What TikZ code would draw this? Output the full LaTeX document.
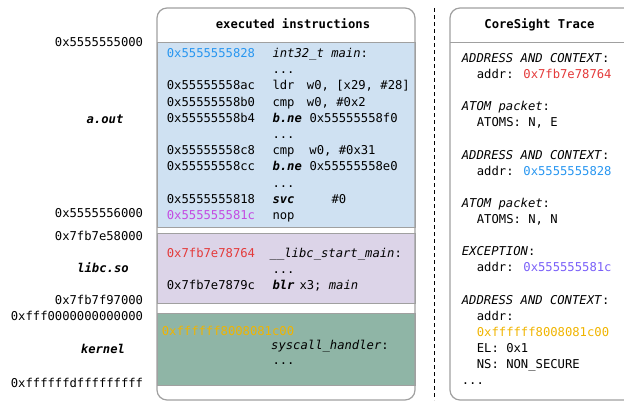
\documentclass[tikz,border=0pt]{standalone}
\usepackage{fontspec}
\newfontfamily\mono{DejaVu Sans Mono}
\definecolor{cblue}{RGB}{40,150,240}
\definecolor{cred}{RGB}{228,58,58}
\definecolor{cmag}{RGB}{196,74,226}
\definecolor{cviolet}{RGB}{122,96,248}
\definecolor{cgold}{RGB}{240,180,0}
\definecolor{fblue}{RGB}{207,225,242}
\definecolor{fpurple}{RGB}{220,212,232}
\definecolor{fgreen}{RGB}{143,181,166}
\definecolor{gline}{RGB}{160,160,160}
\tikzset{
  every node/.style={inner sep=0pt, font=\mono\fontsize{12.2}{14}\selectfont},
  txt/.style={anchor=base west},
  lbl/.style={anchor=base east},
  ctr/.style={anchor=base},
  panel/.style={draw=gline, line width=1.2pt, rounded corners=10pt},
  region/.style={draw=gline, line width=1pt},
}
\newcommand{\bi}[1]{\textbf{\textit{#1}}}
\begin{document}
\begin{tikzpicture}[x=1pt,y=-1pt]
\useasboundingbox (0,0) rectangle (624,402);
% left panel regions
\fill[white] (157,8) rectangle (415,400);
\draw[region, fill=fblue] (157,42) rectangle (415,227);
\draw[region, fill=fpurple] (157,233) rectangle (415,303);
\draw[region, fill=fgreen] (157,313) rectangle (415,385);
\draw[panel] (157,8) rectangle (415,400);
% right panel
\begin{scope}
\clip (0,0) rectangle (624,402);
\draw[panel] (450,8) rectangle (650,400);
\draw[gline, line width=1pt] (450,42) -- (624,42);
\end{scope}
% dashed separator
\coordinate (d1) at (434,8);
\coordinate (d2) at (434,400);
\draw[black, line width=1pt, dash pattern=on 4pt off 3pt] (d1) -- (d2);
% headers
\node[ctr] (h1) at (293,28.5) {\bfseries executed instructions};
\node[ctr] (h2) at (539.5,28.5) {\bfseries CoreSight Trace};
% left labels
\node[lbl] (m1) at (143.3,46) {0x5555555000};
\node[ctr] (m2) at (105,123.5) {\bi{a.out}};
\node[lbl] (m3) at (143.3,217) {0x5555556000};
\node[lbl] (m4) at (143.3,240) {0x7fb7e58000};
\node[ctr] (m5) at (103,272) {\bi{libc.so}};
\node[lbl] (m6) at (143.3,304.5) {0x7fb7f97000};
\node[lbl] (m7) at (143.3,320.5) {0xfff0000000000000};
\node[ctr] (m8) at (103,353.5) {\bi{kernel}};
\node[lbl] (m9) at (143.3,387) {0xffffffdfffffffff};
% a.out code
\node[txt, text=cblue] (a0) at (166.7,57.5) {0x5555555828};
\node[txt] (i0) at (272.3,57.5) {\textit{int32\_t main}:};
\node[txt] (i1) at (272.3,73.7) {...};
\node[txt] (a2) at (166.7,89.9) {0x55555558ac};
\node[txt] (i2) at (272.3,89.9) {\makebox[34.5pt][l]{ldr}w0, [x29, \#28]};
\node[txt] (a3) at (166.7,106.1) {0x55555558b0};
\node[txt] (i3) at (272.3,106.1) {\makebox[34.5pt][l]{cmp}w0, \#0x2};
\node[txt] (a4) at (166.7,122.3) {0x55555558b4};
\node[txt] (i4) at (272.3,122.3) {\makebox[37pt][l]{\bi{b.ne}}0x55555558f0};
\node[txt] (i5) at (272.3,138.5) {...};
\node[txt] (a6) at (166.7,154.7) {0x55555558c8};
\node[txt] (i6) at (272.3,154.7) {\makebox[37pt][l]{cmp}w0, \#0x31};
\node[txt] (a7) at (166.7,170.9) {0x55555558cc};
\node[txt] (i7) at (272.3,170.9) {\makebox[37pt][l]{\bi{b.ne}}0x55555558e0};
\node[txt] (i8) at (272.3,187.1) {...};
\node[txt] (a9) at (166.7,203.3) {0x5555555818};
\node[txt] (i9) at (272.3,203.3) {\makebox[59pt][l]{\bi{svc}}\#0};
\node[txt, text=cmag] (a10) at (166.7,219.5) {0x555555581c};
\node[txt] (i10) at (272.3,219.5) {nop};
% libc code
\node[txt, text=cred] (p0) at (166.7,257) {0x7fb7e78764};
\node[txt] (q0) at (269.5,257) {\textit{\_\_libc\_start\_main}:};
\node[txt] (q1) at (272.3,273.2) {...};
\node[txt] (p2) at (166.7,289.5) {0x7fb7e7879c};
\node[txt] (q2) at (272.3,289.5) {\makebox[27pt][l]{\bi{blr}}x3; \textit{main}};
% kernel code
\node[txt, text=cgold] (g0) at (161.7,335) {0xffffff8008081c00};
\node[txt] (k0) at (271,349.5) {\textit{syscall\_handler}:};
\node[txt] (k1) at (272.3,364.5) {...};
% trace
\node[txt] (t0) at (461.7,62.5) {\textit{ADDRESS AND CONTEXT}:};
\node[txt] (t1) at (476.7,78.6) {addr: \textcolor{cred}{0x7fb7e78764}};
\node[txt] (t3) at (461.7,110.8) {\textit{ATOM packet}:};
\node[txt] (t4) at (476.7,126.9) {ATOMS: N, E};
\node[txt] (t6) at (461.7,159.1) {\textit{ADDRESS AND CONTEXT}:};
\node[txt] (t7) at (476.7,175.2) {addr: \textcolor{cblue}{0x5555555828}};
\node[txt] (t9) at (461.7,207.4) {\textit{ATOM packet}:};
\node[txt] (t10) at (476.7,223.5) {ATOMS: N, N};
\node[txt] (t12) at (461.7,255.7) {\textit{EXCEPTION}:};
\node[txt] (t13) at (476.7,271.8) {addr: \textcolor{cviolet}{0x555555581c}};
\node[txt] (t15) at (461.7,304) {\textit{ADDRESS AND CONTEXT}:};
\node[txt] (t16) at (476.7,320.1) {addr:};
\node[txt, text=cgold] (t17) at (476.7,336.2) {0xffffff8008081c00};
\node[txt] (t18) at (476.7,352.3) {EL: 0x1};
\node[txt] (t19) at (476.7,368.4) {NS: NON\_SECURE};
\node[txt] (t20) at (461.7,384.5) {...};
\end{tikzpicture}
\end{document}
